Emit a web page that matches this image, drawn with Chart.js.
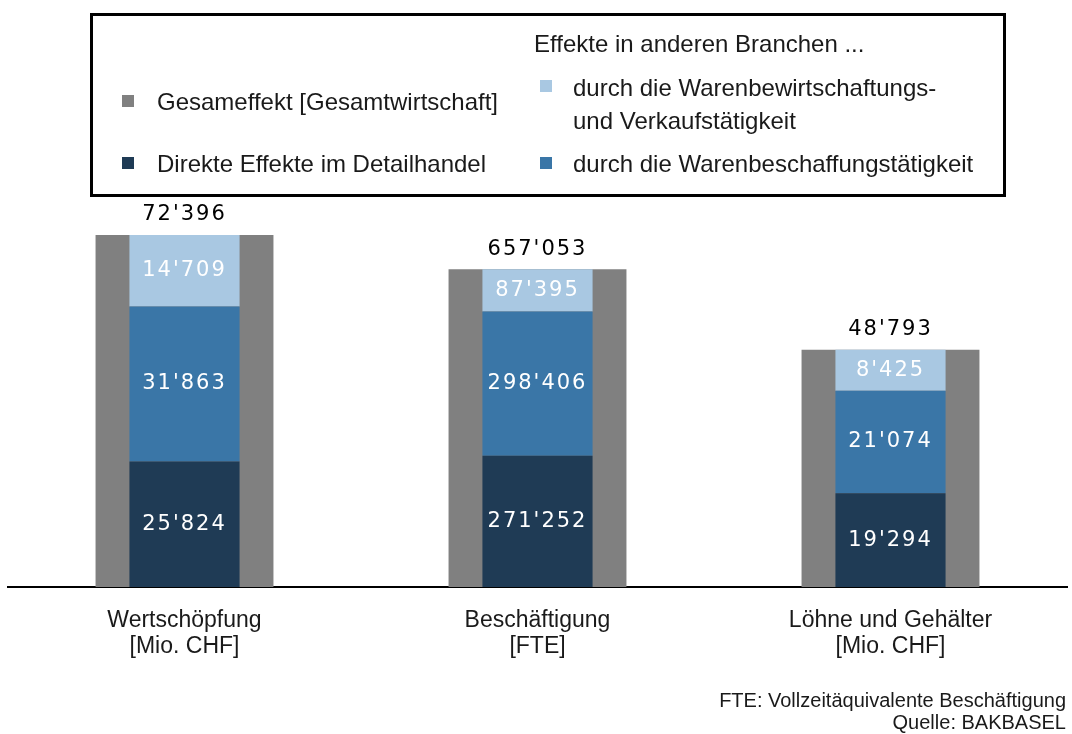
<!DOCTYPE html>
<html>
<head>
<meta charset="utf-8">
<script src="https://cdn.jsdelivr.net/npm/chart.js@4.4.1/dist/chart.umd.min.js"></script>
<style>
  html, body { margin: 0; padding: 0; background: #fff; }
  body { width: 1072px; height: 734px; position: relative; overflow: hidden;
         font-family: "Liberation Sans Narrow", "Liberation Sans", Arial, sans-serif; color: #1a1a1a; }
  #wrap { position: absolute; left: 0; top: 0; width: 1072px; height: 734px; }
  .legend { position: absolute; left: 90px; top: 13px; width: 910px; height: 178px;
            border: 3px solid #000; }
  .legend .item { position: absolute; font-size: 24px; line-height: 33px; white-space: nowrap; }
  .legend .sq { position: absolute; width: 12px; height: 12px; }
  .note { position: absolute; right: 6px; font-size: 20px; line-height: 22px; text-align: right; }
</style>
</head>
<body>
<div id="wrap"><canvas id="chart"></canvas></div>

<div class="legend">
  <div class="item" style="left:441px; top:11px;">Effekte in anderen Branchen ...</div>

  <div class="sq" style="left:29px; top:79px; background:#808080;"></div>
  <div class="item" style="left:64px; top:69px;">Gesameffekt [Gesamtwirtschaft]</div>

  <div class="sq" style="left:29px; top:141px; background:#1f3b55;"></div>
  <div class="item" style="left:64px; top:131px;">Direkte Effekte im Detailhandel</div>

  <div class="sq" style="left:447px; top:64px; background:#a9c8e2;"></div>
  <div class="item" style="left:480px; top:55px;">durch die Warenbewirtschaftungs-<br>und Verkaufstätigkeit</div>

  <div class="sq" style="left:447px; top:141px; background:#3a76a7;"></div>
  <div class="item" style="left:480px; top:131px;">durch die Warenbeschaffungstätigkeit</div>
</div>

<div class="note" style="top:689px;">FTE: Vollzeitäquivalente Beschäftigung<br>Quelle: BAKBASEL</div>

<script>
// Kategorien (Mio. CHF / FTE)
const categories = [
    ['Wertschöpfung', '[Mio. CHF]'],
    ['Beschäftigung', '[FTE]'],
    ['Löhne und Gehälter', '[Mio. CHF]']
];

// Gesamteffekt
const totals = [72396, 657053, 48793];
// Direkte Effekte im Detailhandel
const direktEffekte = [25824, 271252, 19294];
// durch die Warenbeschaffungstätigkeit
const beschaffung = [31863, 298406, 21074];
// durch die Warenbewirtschaftungs- und Verkaufstätigkeit
const bewirtschaftung = [14709, 87395, 8425];

// Beschäftigung (FTE) läuft auf eigener Achse
const fteIndex = 1;

const colors = {
    total: '#808080',
    direkt: '#1f3b55',
    beschaffung: '#3a76a7',
    bewirtschaftung: '#a9c8e2'
};

function onlyChf(arr) { return arr.map((v, i) => i === fteIndex ? null : v); }
function onlyFte(arr) { return arr.map((v, i) => i === fteIndex ? v : null); }

function fmt(n) {
    return String(n).replace(/\B(?=(\d{3})+(?!\d))/g, "'");
}

function totalSet(data, axis) {
    return {
        label: 'Gesameffekt',
        data: data,
        yAxisID: axis,
        stack: 'total',
        backgroundColor: colors.total,
        barPercentage: 0.504,
        categoryPercentage: 1,
        grouped: false,
        order: 2,
        isTotal: true
    };
}

function partSet(label, data, axis, color) {
    return {
        label: label,
        data: data,
        yAxisID: axis,
        stack: 'parts',
        backgroundColor: color,
        barPercentage: 0.312,
        categoryPercentage: 1,
        grouped: false,
        order: 1,
        labelColor: '#fff'
    };
}

// Beschriftungen der Balken
const valueLabels = {
    id: 'valueLabels',
    afterDatasetsDraw(chart) {
        const ctx = chart.ctx;
        ctx.save();
        ctx.font = '21px "DejaVu Sans"';
        ctx.letterSpacing = '2px';
        ctx.textAlign = 'center';
        ctx.textBaseline = 'middle';
        chart.data.datasets.forEach((ds, di) => {
            const meta = chart.getDatasetMeta(di);
            meta.data.forEach((bar, i) => {
                const v = ds.data[i];
                if (v === null || v === undefined) return;
                if (ds.isTotal) {
                    ctx.fillStyle = '#000';
                    ctx.fillText(fmt(v), bar.x, bar.y - 20);
                } else {
                    ctx.fillStyle = ds.labelColor;
                    ctx.fillText(fmt(v), bar.x, (bar.y + bar.base) / 2);
                }
            });
        });
        ctx.restore();
    }
};

const ctx = document.getElementById('chart').getContext('2d');
new Chart(ctx, {
    type: 'bar',
    data: {
        labels: categories,
        datasets: [
            totalSet(onlyChf(totals), 'y'),
            totalSet(onlyFte(totals), 'y2'),
            partSet('Direkte Effekte im Detailhandel', onlyChf(direktEffekte), 'y', colors.direkt),
            partSet('durch die Warenbeschaffungstätigkeit', onlyChf(beschaffung), 'y', colors.beschaffung),
            partSet('durch die Warenbewirtschaftungs- und Verkaufstätigkeit', onlyChf(bewirtschaftung), 'y', colors.bewirtschaftung),
            partSet('Direkte Effekte im Detailhandel', onlyFte(direktEffekte), 'y2', colors.direkt),
            partSet('durch die Warenbeschaffungstätigkeit', onlyFte(beschaffung), 'y2', colors.beschaffung),
            partSet('durch die Warenbewirtschaftungs- und Verkaufstätigkeit', onlyFte(bewirtschaftung), 'y2', colors.bewirtschaftung)
        ]
    },
    options: {
        responsive: true,
        maintainAspectRatio: false,
        animation: false,
        layout: { padding: { top: 200, left: 8, right: 5, bottom: 54 } },
        plugins: {
            legend: { display: false },
            tooltip: { enabled: false }
        },
        scales: {
            x: {
                grid: { display: false, drawTicks: false },
                border: { display: true, color: '#000', width: 2 },
                ticks: {
                    color: '#1a1a1a',
                    padding: 20,
                    font: { family: '"Liberation Sans Narrow", "Liberation Sans", Arial', size: 23, lineHeight: 1.15 }
                }
            },
            y: { display: false, stacked: true, min: 0, max: 79600 },
            y2: { display: false, stacked: true, min: 0, max: 800000 }
        }
    },
    plugins: [valueLabels]
});
</script>
</body>
</html>
